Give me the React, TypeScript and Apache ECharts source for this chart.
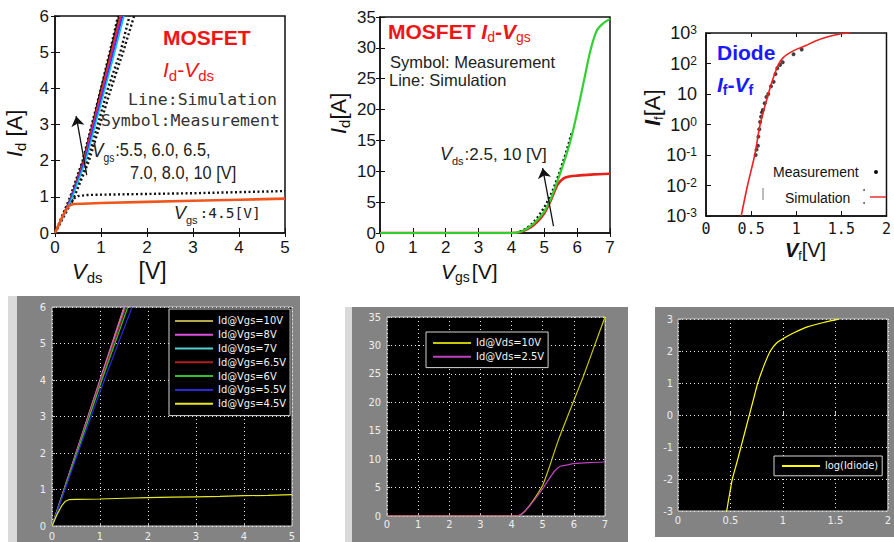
import React, { useEffect, useRef } from 'react';
import * as echarts from 'echarts';

const SANS = "'Liberation Sans', Arial, sans-serif";
const MONO = "'DejaVu Sans Mono', 'Liberation Mono', monospace";
const NARROW = "'Liberation Sans Narrow', 'DejaVu Sans Condensed', 'Liberation Sans', sans-serif";
const RED_TITLE = '#f01414';
const BLUE_TITLE = '#1a1aff';

// ---------- Panel A: MOSFET Id-Vds, measured vs simulated ----------
const idVdsSimNames = ['Sim Vgs=10V', 'Sim Vgs=8.0V', 'Sim Vgs=7.0V', 'Sim Vgs=6.5V', 'Sim Vgs=6.0V', 'Sim Vgs=5.5V'];
const idVdsSimColors = ['#000000', '#8b3a1a', '#ff2a00', '#d010d0', '#1f3cff', '#00c8e8'];
const idVdsSim10 = [[0, 0], [0.18, 0.5], [0.35, 1], [0.61, 2], [0.81, 3], [1.0, 4], [1.2, 5], [1.39, 6]];
const idVdsSim8 = [[0, 0], [0.18, 0.5], [0.35, 1], [0.62, 2], [0.82, 3], [1.02, 4], [1.22, 5], [1.41, 6]];
const idVdsSim7 = [[0, 0], [0.19, 0.5], [0.36, 1], [0.63, 2], [0.83, 3], [1.03, 4], [1.23, 5], [1.43, 6]];
const idVdsSim65 = [[0, 0], [0.19, 0.5], [0.36, 1], [0.64, 2], [0.84, 3], [1.05, 4], [1.25, 5], [1.45, 6]];
const idVdsSim6 = [[0, 0], [0.19, 0.5], [0.37, 1], [0.65, 2], [0.86, 3], [1.07, 4], [1.27, 5], [1.47, 6]];
const idVdsSim55 = [[0, 0], [0.2, 0.5], [0.38, 1], [0.67, 2], [0.88, 3], [1.09, 4], [1.3, 5], [1.5, 6]];
const idVdsSimLines = [idVdsSim10, idVdsSim8, idVdsSim7, idVdsSim65, idVdsSim6, idVdsSim55];
const idVdsMeasA = [[0, 0], [0.33, 1], [0.6, 2], [0.8, 3], [1.0, 4], [1.19, 5], [1.37, 6]];
const idVdsMeasB = [[0, 0], [0.4, 1], [0.7, 2], [0.93, 3], [1.15, 4], [1.42, 5], [1.62, 6]];
const idVdsMeasC = [[0, 0], [0.42, 1], [0.74, 2], [0.98, 3], [1.22, 4], [1.48, 5], [1.72, 6]];
const idVdsSim45 = [[0, 0], [0.1, 0.28], [0.2, 0.55], [0.3, 0.75], [0.4, 0.8], [0.6, 0.81], [1, 0.83], [2, 0.86], [3, 0.89], [4, 0.92], [5, 0.95]];
const idVdsMeas45 = [[0.36, 0.84], [0.42, 0.96], [0.5, 1.02], [0.7, 1.05], [1, 1.06], [2, 1.08], [3, 1.1], [4, 1.13], [5, 1.16]];
const idVdsArrow = [[0.69, 1.6], [0.46, 3.23]];

// ---------- Panel B: MOSFET Id-Vgs, measured vs simulated ----------
const idVgsSim10 = [[0, 0], [4, 0], [4.2, 0.1], [4.4, 0.5], [4.6, 1.2], [4.8, 2.2], [5, 3.5], [5.2, 5.6], [5.4, 8.4], [5.6, 11.5], [5.8, 15], [6.0, 19.5], [6.2, 24.5], [6.4, 29.5], [6.6, 32.8], [6.8, 34], [7, 34.7]];
const idVgsSim25 = [[0, 0], [4, 0], [4.3, 0.2], [4.6, 1.0], [4.8, 1.9], [5, 3.2], [5.2, 5.3], [5.4, 7.8], [5.6, 8.9], [5.8, 9.2], [6, 9.3], [6.5, 9.5], [7, 9.6]];
const idVgsMeas10 = [[4.25, 0.2], [4.45, 0.7], [4.65, 1.6], [4.85, 2.9], [5.05, 4.6], [5.25, 6.8], [5.45, 9.6], [5.65, 12.8], [5.85, 16.5]];
const idVgsArrow = [[5.28, 1.1], [4.95, 10.5]];

// ---------- Panel C: diode If-Vf on a log scale ----------
const diodeSim = [[0.39, 0.001], [0.46, 0.01], [0.54, 0.1], [0.6, 1], [0.69, 10], [0.74, 30], [0.8, 90], [0.85, 150], [0.9, 200], [1.0, 290], [1.1, 380], [1.2, 530], [1.35, 750], [1.5, 950], [1.6, 1050]];
const diodeMeas = [[0.55, 0.1], [0.56, 0.15], [0.575, 0.2], [0.58, 0.4], [0.59, 0.7], [0.6, 1.2], [0.61, 1.8], [0.62, 2.5], [0.63, 3], [0.65, 5], [0.67, 8], [0.69, 10], [0.72, 18], [0.75, 25], [0.77, 45], [0.79, 70], [0.82, 90], [0.85, 110], [0.97, 200], [1.06, 290]];

// ---------- Panel D: simulated Id-Vds family ----------
const mlVdsNames = ['Id@Vgs=10V', 'Id@Vgs=8V', 'Id@Vgs=7V', 'Id@Vgs=6.5V', 'Id@Vgs=6V', 'Id@Vgs=5.5V', 'Id@Vgs=4.5V'];
const mlVdsColors = ['#b4a848', '#e050e0', '#50d0d0', '#b02020', '#30c030', '#2828d8', '#e8e820'];
const mlVds10 = [[0, 0], [0.5, 2], [1.0, 4], [1.5, 6]];
const mlVds8 = [[0, 0], [0.5, 2], [1.0, 4], [1.51, 6]];
const mlVds7 = [[0, 0], [0.51, 2], [1.02, 4], [1.53, 6]];
const mlVds65 = [[0, 0], [0.51, 2], [1.02, 4], [1.54, 6]];
const mlVds6 = [[0, 0], [0.52, 2], [1.04, 4], [1.58, 6]];
const mlVds55 = [[0, 0], [0.54, 2], [1.09, 4], [1.67, 6]];
const mlVds45 = [[0, 0], [0.1, 0.3], [0.2, 0.55], [0.28, 0.68], [0.35, 0.72], [0.5, 0.73], [1, 0.74], [1.5, 0.76], [2, 0.78], [2.5, 0.79], [3, 0.8], [3.5, 0.81], [4, 0.83], [4.5, 0.84], [5, 0.86]];
const mlVdsLines = [mlVds10, mlVds8, mlVds7, mlVds65, mlVds6, mlVds55, mlVds45];

// ---------- Panel E: simulated Id-Vgs ----------
const mlVgsNames = ['Id@Vds=10V', 'Id@Vds=2.5V'];
const mlVgsColors = ['#c8c800', '#c040c0'];
const mlVgs10 = [[0, 0], [4.2, 0], [4.4, 0.7], [4.6, 2], [4.8, 3.6], [5, 5.4], [5.2, 8.4], [5.5, 13.3], [6, 20.3], [6.3, 24.5], [6.6, 29], [7, 35]];
const mlVgs25 = [[0, 0], [4.2, 0], [4.4, 0.7], [4.6, 1.9], [4.8, 3.3], [5, 4.8], [5.2, 6.5], [5.4, 8], [5.55, 8.7], [5.8, 9.0], [6, 9.2], [6.5, 9.4], [7, 9.5]];

// ---------- Panel F: simulated log10 of diode current ----------
const mlDiodeName = 'log(Idiode)';
const mlDiode = [[0.464, -3], [0.49, -2.5], [0.518, -2], [0.56, -1.5], [0.6, -1], [0.64, -0.5], [0.68, 0], [0.72, 0.5], [0.76, 1], [0.82, 1.55], [0.88, 2], [0.94, 2.25], [1.0, 2.38], [1.1, 2.56], [1.24, 2.76], [1.4, 2.9], [1.51, 2.98], [1.53, 3.0]];

type Part = { t: string; size: number; italic?: boolean; bold?: boolean; dy?: number; dx?: number; family?: string; color?: string };

const measureCtx = typeof document !== 'undefined' ? document.createElement('canvas').getContext('2d') : null;
function textWidth(t: string, font: string) {
  if (!measureCtx) return t.length * 8;
  measureCtx.font = font;
  return measureCtx.measureText(t).width;
}

// Lays out a run of differently styled text pieces (italics, subscripts) left to right.
function richLabel(parts: Part[], x: number, y: number, color: string, opts: { rotation?: number; scaleX?: number } = {}) {
  let cursor = 0;
  const children = parts.map((p) => {
    const family = p.family || SANS;
    const weight = p.bold ? 'bold' : 'normal';
    const fstyle = p.italic ? 'italic' : 'normal';
    const font = `${fstyle} ${weight} ${p.size}px ${family}`;
    cursor += p.dx || 0;
    const el = {
      type: 'text',
      x: cursor,
      y: p.dy || 0,
      z: 100,
      style: {
        text: p.t,
        fill: p.color || color,
        fontSize: p.size,
        fontFamily: family,
        fontWeight: weight,
        fontStyle: fstyle,
        align: 'left',
        verticalAlign: 'middle',
      },
    };
    cursor += textWidth(p.t, font);
    return el;
  });
  return { type: 'group', x, y, rotation: opts.rotation || 0, scaleX: opts.scaleX || 1, z: 100, silent: true, children };
}

const lightAxis = (extra: any = {}) => ({
  axisLine: { show: true, lineStyle: { color: '#111', width: 1.5 } },
  axisTick: { show: true, inside: true, length: 5, lineStyle: { color: '#111', width: 1 } },
  splitLine: { show: false },
  ...extra,
  axisLabel: { color: '#151515', fontSize: 17, fontFamily: SANS, ...(extra.axisLabel || {}) },
});

// Tick-only mirror axis on the top or right edge of a framed panel
const mirrorAxis = (gridIndex: number, position: string, range: any) => ({
  gridIndex, position, ...range,
  axisLine: { show: false },
  axisTick: { show: true, inside: true, length: 4, lineStyle: { color: '#111', width: 1 } },
  axisLabel: { show: false },
  splitLine: { show: false },
});

const darkAxis = (extra: any = {}) => ({
  axisLine: { show: false },
  axisTick: { show: true, inside: true, length: 3, lineStyle: { color: '#bbbbbb' } },
  splitLine: { show: true, lineStyle: { color: '#e6e6e6', type: [1, 3], width: 1 } },
  ...extra,
  axisLabel: { color: '#eeeeee', fontSize: 11, fontFamily: NARROW, margin: 5, ...(extra.axisLabel || {}) },
});

const lineSeries = (name: string, data: number[][], idx: number, color: string, width = 1.5, extra: any = {}) => ({
  type: 'line',
  name,
  data,
  xAxisIndex: idx,
  yAxisIndex: idx,
  symbol: 'none',
  silent: true,
  clip: true,
  lineStyle: { color, width },
  itemStyle: { color },
  ...extra,
});

const dotted = (name: string, data: number[][], idx: number) =>
  lineSeries(name, data, idx, '#111', 2.4, { lineStyle: { color: '#111', width: 2.4, type: [2, 2.5], cap: 'butt' } });

const arrowMark = (pts: number[][]) => ({
  silent: true,
  symbol: ['none', 'arrow'],
  symbolSize: 10,
  label: { show: false },
  lineStyle: { color: '#111', width: 1.3, type: 'solid' },
  data: [[{ coord: pts[0] }, { coord: pts[1] }]],
});

function buildOption() {
  const series: any[] = [];

  // Panel A
  series.push(dotted('Meas A', idVdsMeasA, 0));
  series.push(dotted('Meas B', idVdsMeasB, 0));
  series.push(dotted('Meas C', idVdsMeasC, 0));
  idVdsSimLines.forEach((d, i) => series.push(lineSeries(idVdsSimNames[i], d, 0, idVdsSimColors[i], 1.5)));
  series.push(dotted('Meas Vgs=4.5V', idVdsMeas45, 0));
  series.push(lineSeries('Sim Vgs=4.5V', idVdsSim45, 0, '#f0561c', 2.6, { markLine: arrowMark(idVdsArrow) }));

  // Panel B
  series.push(lineSeries('Sim Vds=2.5V', idVgsSim25, 1, '#e8201a', 2.6, { smooth: 0.2 }));
  series.push(dotted('Meas Vds=10V', idVgsMeas10, 1));
  series.push(lineSeries('Sim Vds=10V', idVgsSim10, 1, '#30d030', 2.2, { smooth: 0.2, markLine: arrowMark(idVgsArrow) }));

  // Panel C
  series.push(lineSeries('Diode simulation', diodeSim, 2, '#ee2020', 1.6, { smooth: 0.3 }));
  series.push({
    type: 'scatter', name: 'Diode measurement', data: diodeMeas, xAxisIndex: 2, yAxisIndex: 2,
    symbolSize: 4, itemStyle: { color: '#111' }, silent: true,
  });

  // Panel D
  mlVdsLines.forEach((d, i) => series.push(lineSeries(mlVdsNames[i], d, 3, mlVdsColors[i], 1.2)));

  // Panel E
  series.push(lineSeries(mlVgsNames[0], mlVgs10, 4, mlVgsColors[0], 1.2, { smooth: 0.2 }));
  series.push(lineSeries(mlVgsNames[1], mlVgs25, 4, mlVgsColors[1], 1.2, { smooth: 0.2 }));

  // Panel F
  series.push(lineSeries(mlDiodeName, mlDiode, 5, '#ffff00', 1.2, { smooth: 0.2 }));

  const darkLegend = (data: string[], left: number, top: number, padding: number[]) => ({
    data, left, top, orient: 'vertical', selectedMode: false,
    icon: 'rect', itemWidth: 38, itemHeight: 2, itemGap: 0, itemTextGap: 5, padding,
    backgroundColor: '#000', borderColor: '#d4d4d4', borderWidth: 1, borderRadius: 0,
    textStyle: { color: '#f4f4f4', fontSize: 11, lineHeight: 13.8, fontFamily: NARROW },
  });

  const graphic: any[] = [
    // grey frames behind the simulated panels
    { type: 'rect', z: -10, shape: { x: 8, y: 296, width: 9, height: 246 }, style: { fill: '#dadada' } },
    { type: 'rect', z: -10, shape: { x: 17, y: 296, width: 283, height: 246 }, style: { fill: '#838383' } },
    { type: 'rect', z: -10, shape: { x: 345, y: 307, width: 7, height: 235 }, style: { fill: '#dadada' } },
    { type: 'rect', z: -10, shape: { x: 352, y: 307, width: 276, height: 235 }, style: { fill: '#838383' } },
    { type: 'rect', z: -10, shape: { x: 655, y: 307, width: 239, height: 230 }, style: { fill: '#838383' } },

    // Panel A texts
    richLabel([{ t: 'MOSFET', size: 21, bold: true }], 163, 37, RED_TITLE),
    richLabel([{ t: 'I', size: 21, italic: true }, { t: 'd', size: 15, dy: 6 }, { t: '-', size: 21 }, { t: 'V', size: 21, italic: true }, { t: 'ds', size: 15, dy: 6 }], 163, 69, RED_TITLE),
    richLabel([{ t: 'Line:Simulation', size: 16.5, family: MONO }], 128, 99, '#333'),
    richLabel([{ t: 'Symbol:Measurement', size: 16.5, family: MONO }], 101, 120, '#333'),
    richLabel([{ t: 'V', size: 20, italic: true }, { t: 'gs', size: 12, dy: 8 }, { t: ':5.5, 6.0, 6.5,', size: 19, dx: 1 }], 92, 150, '#222', { scaleX: 0.86 }),
    richLabel([{ t: '7.0, 8.0, 10 [V]', size: 19 }], 130, 173, '#222', { scaleX: 0.86 }),
    richLabel([{ t: 'V', size: 18, italic: true }, { t: 'gs', size: 11, dy: 7 }, { t: ':4.5[V]', size: 14.5, family: MONO, dx: 2 }], 174, 213, '#222'),
    richLabel([{ t: 'I', size: 22, italic: true }, { t: 'd', size: 15, dy: 6 }, { t: ' [A]', size: 22 }], 14, 157, '#111', { rotation: Math.PI / 2 }),
    richLabel([{ t: 'V', size: 22, italic: true }, { t: 'ds', size: 15, dy: 6 }, { t: '[V]', size: 23, dx: 36 }], 72, 271, '#111'),

    // Panel B texts
    richLabel([{ t: 'MOSFET ', size: 21, bold: true }, { t: 'I', size: 21, italic: true, bold: true }, { t: 'd', size: 14, dy: 6 }, { t: '-', size: 21, bold: true }, { t: 'V', size: 21, italic: true, bold: true }, { t: 'gs', size: 14, dy: 6 }], 388, 31, RED_TITLE),
    richLabel([{ t: 'Symbol: Measurement', size: 16.5 }], 390, 62, '#222'),
    richLabel([{ t: 'Line: Simulation', size: 16.5 }], 389, 80, '#222'),
    richLabel([{ t: 'V', size: 18, italic: true }, { t: 'ds', size: 11, dy: 7 }, { t: ':2.5, 10 [V]', size: 17, dx: 1 }], 440, 154, '#222'),
    richLabel([{ t: 'I', size: 22, italic: true }, { t: 'd', size: 15, dy: 6 }, { t: '[A]', size: 22 }], 338, 134, '#111', { rotation: Math.PI / 2 }),
    richLabel([{ t: 'V', size: 21, italic: true }, { t: 'gs', size: 14, dy: 6 }, { t: '[V]', size: 21, dx: 2 }], 441, 271, '#111'),

    // Panel C texts
    richLabel([{ t: 'Diode', size: 21, bold: true }], 717, 52, BLUE_TITLE),
    richLabel([{ t: 'I', size: 21, italic: true, bold: true }, { t: 'f', size: 14, dy: 6, bold: true }, { t: '-', size: 21, bold: true }, { t: 'V', size: 21, italic: true, bold: true }, { t: 'f', size: 14, dy: 6, bold: true }], 717, 84, BLUE_TITLE),
    richLabel([{ t: 'I', size: 22, italic: true, bold: true }, { t: 'f', size: 13, dy: 6 }, { t: '[A]', size: 22 }], 652, 126, '#111', { rotation: Math.PI / 2 }),
    richLabel([{ t: 'V', size: 20, italic: true, bold: true }, { t: 'f', size: 12, dy: 6 }, { t: '[V]', size: 20 }], 785, 250, '#111'),
    richLabel([{ t: 'Measurement', size: 14 }], 773, 172, '#111'),
    richLabel([{ t: 'Simulation', size: 14 }], 785, 198, '#111'),
    { type: 'circle', z: 100, shape: { cx: 876, cy: 172, r: 2 }, style: { fill: '#111' } },
    { type: 'line', z: 100, shape: { x1: 870, y1: 197, x2: 886, y2: 197 }, style: { stroke: '#e83030', lineWidth: 1.5 } },
    { type: 'line', z: 100, shape: { x1: 763, y1: 188, x2: 763, y2: 200 }, style: { stroke: '#777', lineWidth: 1 } },
    { type: 'circle', z: 100, shape: { cx: 864, cy: 190, r: 1 }, style: { fill: '#666' } },
    { type: 'circle', z: 100, shape: { cx: 864, cy: 203, r: 1 }, style: { fill: '#666' } },
  ];

  return {
    animation: false,
    backgroundColor: '#ffffff',
    textStyle: { fontFamily: SANS },
    grid: [
      { left: 55, top: 16, width: 230, height: 217, show: true, backgroundColor: '#fff', borderColor: '#111', borderWidth: 1.5 },
      { left: 380, top: 17, width: 230, height: 216, show: true, backgroundColor: '#fff', borderColor: '#111', borderWidth: 1.5 },
      { left: 706, top: 33, width: 193, height: 183, show: true, backgroundColor: '#fff', borderColor: '#111', borderWidth: 1.5 },
      { left: 52, top: 307, width: 240, height: 220, show: true, backgroundColor: '#000', borderColor: '#cfcfcf', borderWidth: 1 },
      { left: 387, top: 317, width: 218, height: 199, show: true, backgroundColor: '#000', borderColor: '#cfcfcf', borderWidth: 1 },
      { left: 678, top: 319, width: 224, height: 192, show: true, backgroundColor: '#000', borderColor: '#cfcfcf', borderWidth: 1 },
    ],
    xAxis: [
      { gridIndex: 0, type: 'value', min: 0, max: 5, interval: 1, ...lightAxis({ axisLabel: { margin: 6 } }) },
      { gridIndex: 1, type: 'value', min: 0, max: 7, interval: 1, ...lightAxis({ axisLabel: { margin: 6 } }) },
      { gridIndex: 2, type: 'value', min: 0, max: 2, interval: 0.5, ...lightAxis({ axisLabel: { margin: 5, fontSize: 15, fontFamily: MONO } }) },
      { gridIndex: 3, type: 'value', min: 0, max: 5, interval: 1, ...darkAxis({ axisLabel: { margin: 5 } }) },
      { gridIndex: 4, type: 'value', min: 0, max: 7, interval: 1, ...darkAxis({ axisLabel: { margin: 3 } }) },
      { gridIndex: 5, type: 'value', min: 0, max: 2, interval: 0.5, ...darkAxis({ axisLabel: { margin: 4 } }) },
      mirrorAxis(0, 'top', { type: 'value', min: 0, max: 5, interval: 1 }),
      mirrorAxis(1, 'top', { type: 'value', min: 0, max: 7, interval: 1 }),
      mirrorAxis(2, 'top', { type: 'value', min: 0, max: 2, interval: 0.5 }),
    ],
    yAxis: [
      { gridIndex: 0, type: 'value', min: 0, max: 6, interval: 1, ...lightAxis({ axisLabel: { margin: 6 } }) },
      { gridIndex: 1, type: 'value', min: 0, max: 35, interval: 5, ...lightAxis({ axisLabel: { margin: 4 } }) },
      {
        gridIndex: 2, type: 'log', logBase: 10, min: 0.001, max: 1000,
        ...lightAxis({
          axisLabel: {
            margin: 9,
            formatter: (v: number) => {
              const e = Math.round(Math.log10(v));
              if (e === 1) return '{b|10}';
              return `{b|10}{s|${e < 0 ? '-' + Math.abs(e) : e}}`;
            },
            rich: {
              b: { fontSize: 18, fontFamily: SANS, color: '#151515' },
              s: { fontSize: 12, fontFamily: SANS, color: '#151515', verticalAlign: 'top' },
            },
          },
        }),
      },
      { gridIndex: 3, type: 'value', min: 0, max: 6, interval: 1, ...darkAxis({ axisLabel: { margin: 6 } }) },
      { gridIndex: 4, type: 'value', min: 0, max: 35, interval: 5, ...darkAxis({ axisLabel: { margin: 6 } }) },
      { gridIndex: 5, type: 'value', min: -3, max: 3, interval: 1, ...darkAxis({ axisLabel: { margin: 5 } }) },
      mirrorAxis(0, 'right', { type: 'value', min: 0, max: 6, interval: 1 }),
      mirrorAxis(1, 'right', { type: 'value', min: 0, max: 35, interval: 5 }),
    ],
    legend: [
      darkLegend(mlVdsNames, 169, 309, [5, 4, 5, 6]),
      darkLegend(mlVgsNames, 426, 332, [4, 4, 4, 7]),
      darkLegend([mlDiodeName], 774, 456, [3, 4, 3, 8]),
    ],
    graphic,
    series,
  };
}

export default function App() {
  const ref = useRef<HTMLDivElement>(null);
  useEffect(() => {
    if (!ref.current) return;
    const chart = echarts.init(ref.current, undefined, { renderer: 'svg' });
    chart.setOption(buildOption() as any);
    return () => chart.dispose();
  }, []);
  return (
    <div
      ref={ref}
      style={{ position: 'fixed', left: 0, top: 0, width: 894, height: 542, background: '#fff', overflow: 'hidden' }}
    />
  );
}
